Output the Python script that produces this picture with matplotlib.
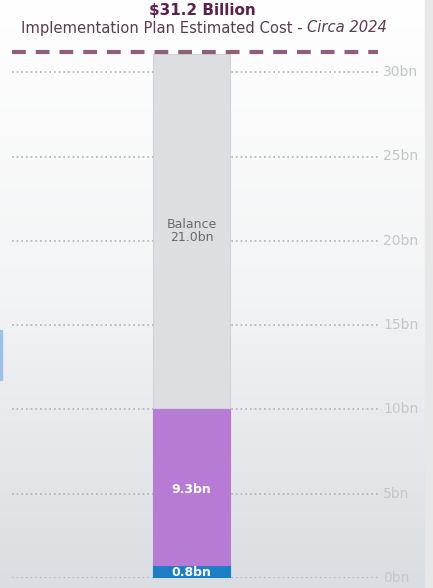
import matplotlib
matplotlib.use('Agg')
import matplotlib.pyplot as plt
import numpy as np
from matplotlib.colors import LinearSegmentedColormap

# data
segments = ["Funded", "Committed", "Balance"]
values = [0.8, 9.3, 21.0]
seg_colors = ["#1b7ec6", "#b77ad5", "#dcdee1"]
seg_labels = ["0.8bn", "9.3bn", "Balance\n21.0bn"]
total = 31.2
yticks = [0, 5, 10, 15, 20, 25, 30]
ytick_labels = ["0bn", "5bn", "10bn", "15bn", "20bn", "25bn", "30bn"]

W, H = 433, 588
fig = plt.figure(figsize=(W / 100, H / 100), dpi=100)

# background gradient
bg = fig.add_axes([0, 0, 1, 1])
grad = np.linspace(0, 1, 256).reshape(-1, 1)
cmap = LinearSegmentedColormap.from_list("bg", ["#ffffff", "#f3f4f5", "#dadde1"])
bg.imshow(grad, aspect='auto', cmap=cmap, extent=[0, 1, 0, 1], origin='upper')
bg.add_patch(plt.Rectangle((425 / W, 0), 8 / W, 1, color="#e8e8e8", transform=bg.transAxes))
bg.add_patch(plt.Rectangle((0, 1 - 380 / H), 2 / W, 50 / H, color="#9cc0e8", transform=bg.transAxes))
bg.set_xlim(0, 1)
bg.set_ylim(0, 1)
bg.axis('off')

# main axes, pixel placement
left, right = 12, 378
bottom_px, top_px = 578, 40
ax = fig.add_axes([left / W, (H - bottom_px) / H, (right - left) / W, (bottom_px - top_px) / H])
ax.patch.set_alpha(0)
px_per_bn = 84.3 / 5
ax.set_ylim(0, (bottom_px - top_px) / px_per_bn)
cx = (191.5 - left) / (right - left)
ax.set_xlim(-cx, 1 - cx)
bw = 77 / (right - left)

for y in yticks:
    ax.axhline(y, color="#b0b0b0", lw=1.2, ls=(0, (1, 1.8)), zorder=1)

base = 0
for v, c, lab, name in zip(values, seg_colors, seg_labels, segments):
    ax.bar(0, v, bw, bottom=base, color=c, edgecolor="#cfd2d6" if name == "Balance" else c,
           lw=0.8, zorder=2)
    mid = base + v / 2
    if name == "Balance":
        ax.text(0, mid, lab, ha='center', va='center', color="#666a70", fontsize=9, zorder=3,
                linespacing=1.0)
    elif name == "Funded":
        ax.text(0, base + v / 2 - 0.05, lab, ha='center', va='center', color="white",
                fontsize=9, fontweight='bold', zorder=3)
    else:
        ax.text(0, mid - 0.2, lab, ha='center', va='center', color="white",
                fontsize=9, fontweight='bold', zorder=3)
    base += v

ax.axhline(total, color="#8f5d7d", lw=3, ls=(0, (3.3, 2.4)), zorder=4)

for y, t in zip(yticks, ytick_labels):
    ax.text(1 - cx + 5 / (right - left), y, t, ha='left', va='center', color="#c4c6c9",
            fontsize=10, transform=ax.transData, clip_on=False)

ax.set_xticks([])
ax.set_yticks([])
for s in ax.spines.values():
    s.set_visible(False)

fig.text(202 / W, 1 - 10 / H, "$31.2 Billion", ha='center', va='center',
         fontsize=11, fontweight='bold', color="#5e1f4c")

# subtitle: regular part + italic part, centred together
renderer = fig.canvas.get_renderer()
t1 = fig.text(0, 1 - 28 / H, "Implementation Plan Estimated Cost - ", ha='left', va='center',
              fontsize=10.6, color="#5b3a52")
t2 = fig.text(0, 1 - 28 / H, "Circa 2024", ha='left', va='center', fontsize=10.6,
              style='italic', color="#5b3a52")
w1 = t1.get_window_extent(renderer).width
w2 = t2.get_window_extent(renderer).width
x0 = 204 - (w1 + w2) / 2
t1.set_x(x0 / W)
t2.set_x((x0 + w1) / W)

fig.savefig("out.png", dpi=100)
